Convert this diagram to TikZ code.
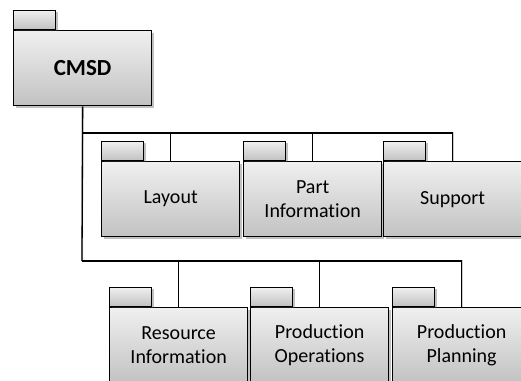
\documentclass[tikz,border=0pt]{standalone}
\usepackage{fontspec}
\setmainfont[Ligatures=NoCommon]{Carlito}
\usetikzlibrary{shadows,backgrounds}
\begin{document}
\begin{tikzpicture}[x=1pt,y=-1pt,
  boxfill/.style={draw=black, line width=1.3pt, top color=black!6, bottom color=black!24,
    drop shadow={shadow xshift=2pt,shadow yshift=-2pt,opacity=0.35,fill=black!70}},
  pkg/.style={boxfill, minimum width=138pt, minimum height=75pt, anchor=north west,
    inner sep=0pt, align=center, font=\fontsize{20}{23.5}\selectfont},
  tab/.style={boxfill, minimum width=42pt, minimum height=19pt, anchor=south west, inner sep=0pt},
  conn/.style={line width=1.3pt, line join=miter},
  connshadow/.style={line width=2pt, black!20, line join=miter}]
\useasboundingbox (0,0) rectangle (521,380);
% bodies
\node[pkg, font=\fontsize{23}{27}\selectfont\bfseries] (cmsd) at (13,30) {CMSD};
\node[tab] (cmsdtab) at (cmsd.north west) {};
\node[pkg] (layout) at (101,161) {Layout};
\node[tab] (layouttab) at (layout.north west) {};
\node[pkg] (part) at (243,161) {Part\\Information};
\node[tab] (parttab) at (part.north west) {};
\node[pkg] (support) at (383,161) {Support};
\node[tab] (supporttab) at (support.north west) {};
\node[pkg] (resource) at (109,307) {Resource\\Information};
\node[tab] (resourcetab) at (resource.north west) {};
\node[pkg] (ops) at (250,307) {Production\\Operations};
\node[tab] (opstab) at (ops.north west) {};
\node[pkg] (plan) at (392,307) {Production\\Planning};
\node[tab] (plantab) at (plan.north west) {};
% connectors
\coordinate (bus1) at (82,133);
\coordinate (bus2) at (82,261);
\begin{scope}[on background layer]
  \begin{scope}[xshift=2.5pt,yshift=-2.5pt]
    \draw[connshadow] (cmsd.south) -- (bus2);
    \draw[connshadow] (bus1) -| (support.north);
    \draw[connshadow] (bus2) -| (plan.north);
  \end{scope}
  \draw[conn] (cmsd.south) -- (bus2);
  \draw[conn] (bus1) -| (layout.north);
  \draw[conn] (bus1) -| (part.north);
  \draw[conn] (bus1) -| (support.north);
  \draw[conn] (bus2) -| (resource.north);
  \draw[conn] (bus2) -| (ops.north);
  \draw[conn] (bus2) -| (plan.north);
\end{scope}
\end{tikzpicture}
\end{document}
